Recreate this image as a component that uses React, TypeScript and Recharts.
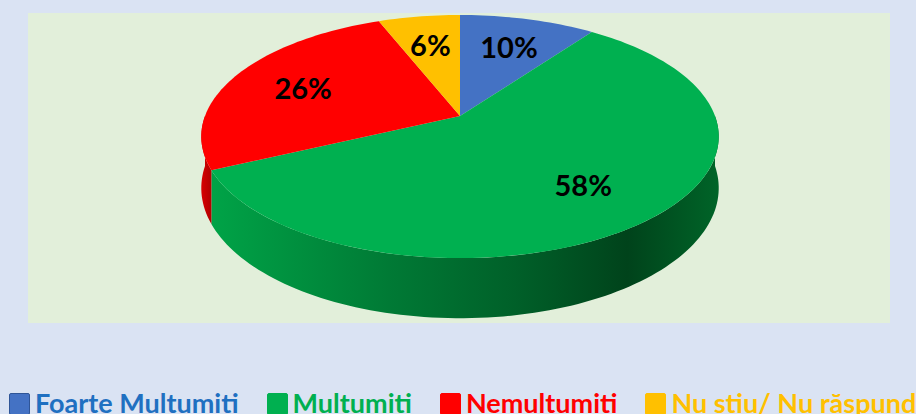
import React from "react";
import { Cell, Legend, Pie, PieChart } from "recharts";

const categories = ["Foarte Multumiti", "Multumiti", "Nemultumiti", "Nu stiu/ Nu răspund"];
const shares = [10, 58, 26, 6];
const sliceColors = ["#4472c4", "#00b050", "#ff0000", "#ffc000"];
const legendTextColors = ["#1f70c1", "#00b050", "#ff0000", "#ffc000"];
const sideFills = ["#2f5597", "url(#sideGreen)", "url(#sideRed)", "#bf9000"];

const data = categories.map((name, i) => ({ name, value: shares[i] }));

// fake 3D: tilt, perspective and thickness of the pie
const TILT = 0.463;
const PERSP = 0.169;
const DEPTH = 50;

function project(cx: number, cy: number, R: number, r: number, angleDeg: number, drop: number) {
  const a = (angleDeg * Math.PI) / 180;
  const u = (r / R) * Math.cos(a);
  const v = (r / R) * Math.sin(a);
  const w = 1 + PERSP * v;
  return [cx + (R * u) / w, cy - (R * TILT * v) / w + drop / w];
}

function arcPoints(cx: number, cy: number, R: number, from: number, to: number, drop: number) {
  const steps = Math.max(2, Math.ceil(Math.abs(to - from) / 1.5));
  const pts: number[][] = [];
  for (let i = 0; i <= steps; i++) {
    pts.push(project(cx, cy, R, R, from + ((to - from) * i) / steps, drop));
  }
  return pts;
}

const toPath = (pts: number[][]) =>
  pts.map((p, i) => `${i === 0 ? "M" : "L"}${p[0].toFixed(2)},${p[1].toFixed(2)}`).join(" ") + " Z";

const TopShape = (props: any) => {
  const { cx, cy, outerRadius, startAngle, endAngle, fill } = props;
  const pts = [[cx, cy], ...arcPoints(cx, cy, outerRadius, startAngle, endAngle, 0)];
  return <path d={toPath(pts)} fill={fill} stroke="none" />;
};

const SideShape = (props: any) => {
  const { cx, cy, outerRadius, startAngle, endAngle, fill } = props;
  const lo = Math.min(startAngle, endAngle);
  const hi = Math.max(startAngle, endAngle);
  const parts: React.ReactNode[] = [];
  [-360, 0, 360].forEach((k) => {
    const a = Math.max(lo, -180 + k);
    const b = Math.min(hi, k);
    if (b > a) {
      const top = arcPoints(cx, cy, outerRadius, a, b, 0);
      const bottom = arcPoints(cx, cy, outerRadius, b, a, DEPTH);
      parts.push(<path key={k} d={toPath([...top, ...bottom])} fill={fill} stroke="none" />);
    }
  });
  return <g>{parts}</g>;
};

const renderLabel = (props: any) => {
  const { cx, cy, outerRadius, midAngle, value } = props;
  const [x, y] = project(cx, cy, outerRadius, outerRadius * 0.69, midAngle, 0);
  return (
    <text x={x} y={y} textAnchor="middle" dominantBaseline="central" fill="#000" fontSize={29} fontWeight={700} fontFamily="Lato">
      {value}%
    </text>
  );
};

const renderLegend = () => (
  <div style={{ display: "flex", alignItems: "flex-start", fontFamily: "Lato", fontWeight: 700, fontSize: 27, lineHeight: "27px", whiteSpace: "nowrap" }}>
    {categories.map((name, i) => (
      <div key={name} style={{ display: "flex", alignItems: "flex-start", marginRight: 28 }}>
        <span
          style={{
            display: "inline-block",
            width: 19,
            height: 20,
            marginTop: 4,
            background: sliceColors[i],
            border: `1px solid ${i === 0 ? "#2f5597" : sliceColors[i]}`,
            borderRadius: 2,
            marginRight: 5,
          }}
        />
        <span style={{ color: legendTextColors[i] }}>{name}</span>
      </div>
    ))}
  </div>
);

export default function App() {
  return (
    <div style={{ position: "absolute", left: 0, top: 0, width: 916, height: 414, overflow: "hidden", background: "#dae3f3" }}>
      <div style={{ position: "absolute", left: 28, top: 13, width: 862, height: 310, background: "#e2efda" }} />
      <div style={{ position: "absolute", left: 0, top: 0 }}>
        <PieChart width={916} height={414} margin={{ top: 0, right: 0, bottom: 0, left: 0 }}>
          <defs>
            <linearGradient id="sideGreen" x1="0" y1="0" x2="1" y2="0">
              <stop offset="0" stopColor="#00a347" />
              <stop offset="0.35" stopColor="#007a35" />
              <stop offset="0.6" stopColor="#006029" />
              <stop offset="0.82" stopColor="#00431b" />
              <stop offset="1" stopColor="#006428" />
            </linearGradient>
            <linearGradient id="sideRed" x1="0" y1="0" x2="1" y2="0">
              <stop offset="0" stopColor="#d80000" />
              <stop offset="1" stopColor="#b00000" />
            </linearGradient>
          </defs>
          <Pie
            data={data}
            dataKey="value"
            nameKey="name"
            cx={460}
            cy={116}
            outerRadius={255}
            startAngle={90}
            endAngle={-270}
            stroke="none"
            legendType="none"
            shape={SideShape}
            isAnimationActive={false}
          >
            {data.map((d, i) => (
              <Cell key={d.name} fill={sideFills[i]} />
            ))}
          </Pie>
          <Pie
            data={data}
            dataKey="value"
            nameKey="name"
            cx={460}
            cy={116}
            outerRadius={255}
            startAngle={90}
            endAngle={-270}
            stroke="none"
            shape={TopShape}
            label={renderLabel}
            labelLine={false}
            isAnimationActive={false}
          >
            {data.map((d, i) => (
              <Cell key={d.name} fill={sliceColors[i]} />
            ))}
          </Pie>
          <Legend content={renderLegend} wrapperStyle={{ position: "absolute", left: 9, top: 389, width: 1000 }} />
        </PieChart>
      </div>
    </div>
  );
}
